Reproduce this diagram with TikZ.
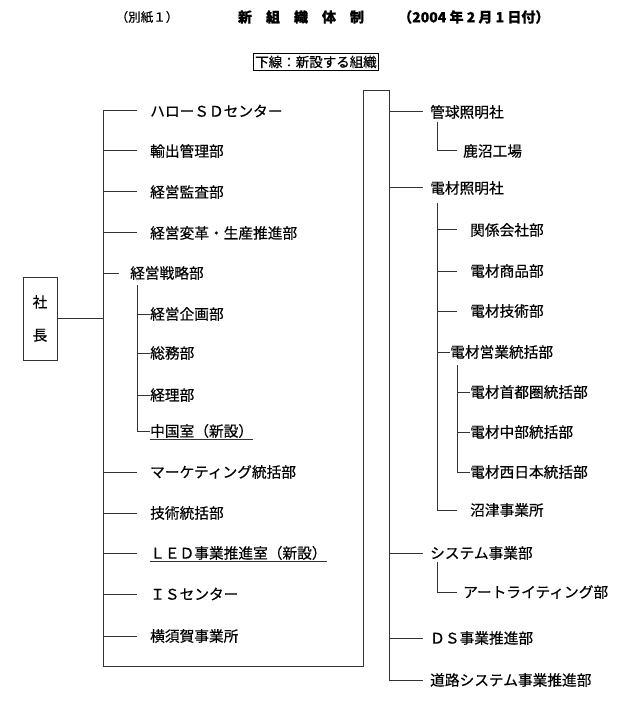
\documentclass[tikz,border=0pt]{standalone}
\usepackage{fontspec}
\setmainfont{Noto Sans CJK JP}[FakeBold=0.45]
\begin{document}
\begin{tikzpicture}[x=1pt,y=-1pt,
  lbl/.style={anchor=west, inner sep=0pt, font=\fontsize{14.7}{16}\selectfont},
  ln/.style={line width=1pt, draw=black!80},
  hdr/.style={inner sep=0pt, font=\fontsize{14}{16}\selectfont\bfseries}]
\useasboundingbox (0,0) rectangle (640,708);
% header
\node[inner sep=0pt, font=\fontsize{12.5}{14}\selectfont] (bessi) at (147,17) {（別紙１）};
\node[hdr] (title) at (301,17) {新　組　織　体　制};
\node[hdr, anchor=west] (date) at (398,17) {（2004 年 2 月 1 日付）};
\node[draw, line width=0.8pt, inner sep=2pt, font=\fontsize{13.5}{15}\selectfont] (legend) at (316,62) {下線：新設する組織};
% president
\node[draw, ln, minimum width=34pt, minimum height=83pt, align=center, font=\fontsize{14.7}{33}\selectfont] (pres) at (40,318.5) {社\\長};
% left column
\node[lbl] (hello) at (150,111) {ハローＳＤセンター};
\node[lbl] (yushutsu) at (150,151) {輸出管理部};
\node[lbl] (kansa) at (150,192) {経営監査部};
\node[lbl] (henkaku) at (150,233) {経営変革・生産推進部};
\node[lbl] (senryaku) at (130,273) {経営戦略部};
\node[lbl] (kikaku) at (150,314) {経営企画部};
\node[lbl] (soumu) at (150,353) {総務部};
\node[lbl] (keiri) at (150,395) {経理部};
\node[lbl] (china) at (150,431) {中国室（新設）};
\node[lbl] (mkt) at (150,472) {マーケティング統括部};
\node[lbl] (gijutsu) at (150,513) {技術統括部};
\node[lbl] (led) at (150,553) {ＬＥＤ事業推進室（新設）};
\node[lbl] (is) at (150,594) {ＩＳセンター};
\node[lbl] (yokosuka) at (150,636) {横須賀事業所};
% right column
\node[lbl] (kankyu) at (430,112) {管球照明社};
\node[lbl] (kanuma) at (463,151) {鹿沼工場};
\node[lbl] (denzai) at (430,188) {電材照明社};
\node[lbl] (kankei) at (470,230) {関係会社部};
\node[lbl] (shohin) at (470,271) {電材商品部};
\node[lbl] (dgijutsu) at (470,311) {電材技術部};
\node[lbl] (eigyo) at (450,352) {電材営業統括部};
\node[lbl] (shuto) at (470,392) {電材首都圏統括部};
\node[lbl] (chubu) at (470,432) {電材中部統括部};
\node[lbl] (nishi) at (470,472) {電材西日本統括部};
\node[lbl] (numazu) at (470,510) {沼津事業所};
\node[lbl] (system) at (430,553) {システム事業部};
\node[lbl] (art) at (463,592) {アートライティング部};
\node[lbl] (ds) at (430,638) {ＤＳ事業推進部};
\node[lbl] (douro) at (430,680) {道路システム事業推進部};
% trunk coordinates
\coordinate (lx) at (103,0);
\coordinate (lbot) at (103,666);
\coordinate (rbot) at (363,666);
\coordinate (rtop) at (363,91);
\coordinate (rtop2) at (389,91);
\coordinate (stop) at (137,285);
\coordinate (ktop) at (437,122);
\coordinate (dtop) at (437,203);
\coordinate (etop) at (457,365);
\coordinate (stop2) at (437,562);
% main frame
\draw[ln] (hello.west -| lx) -- (lbot) -- (rbot) -- (rtop) -- (rtop2) -- (rtop2 |- douro.west) -- ([xshift=-7pt]douro.west);
\draw[ln] (pres.east) -- (pres.east -| lx);
% left branches
\foreach \n in {hello,yushutsu,kansa,henkaku,mkt,gijutsu,led,is,yokosuka}
  \draw[ln] (\n.west -| lx) -- ([xshift=-13pt]\n.west);
\draw[ln] (senryaku.west -| lx) -- ([xshift=-11pt]senryaku.west);
\draw[ln] (stop) -- (stop |- china.west) -- (china.west);
\foreach \n in {kikaku,soumu,keiri}
  \draw[ln] (\n.west -| stop) -- (\n.west);
% underlines
\draw[ln] ([yshift=-1.5pt]china.south west) -- ([yshift=-1.5pt]china.south east);
\draw[ln] ([yshift=-1.5pt]led.south west) -- ([yshift=-1.5pt]led.south east);
% right branches
\foreach \n in {kankyu,denzai,system,ds}
  \draw[ln] (\n.west -| rtop2) -- ([xshift=-7pt]\n.west);
\draw[ln] (ktop) -- (ktop |- kanuma.west) -- ([xshift=-6pt]kanuma.west);
\draw[ln] (dtop) -- (dtop |- numazu.west) -- ([xshift=-13pt]numazu.west);
\foreach \n in {kankei,shohin,dgijutsu}
  \draw[ln] (\n.west -| dtop) -- ([xshift=-13pt]\n.west);
\draw[ln] (eigyo.west -| dtop) -- (eigyo.west);
\draw[ln] (etop) -- (etop |- nishi.west) -- (nishi.west);
\foreach \n in {shuto,chubu}
  \draw[ln] (\n.west -| etop) -- (\n.west);
\draw[ln] (stop2) -- (stop2 |- art.west) -- ([xshift=-6pt]art.west);
\end{tikzpicture}
\end{document}
